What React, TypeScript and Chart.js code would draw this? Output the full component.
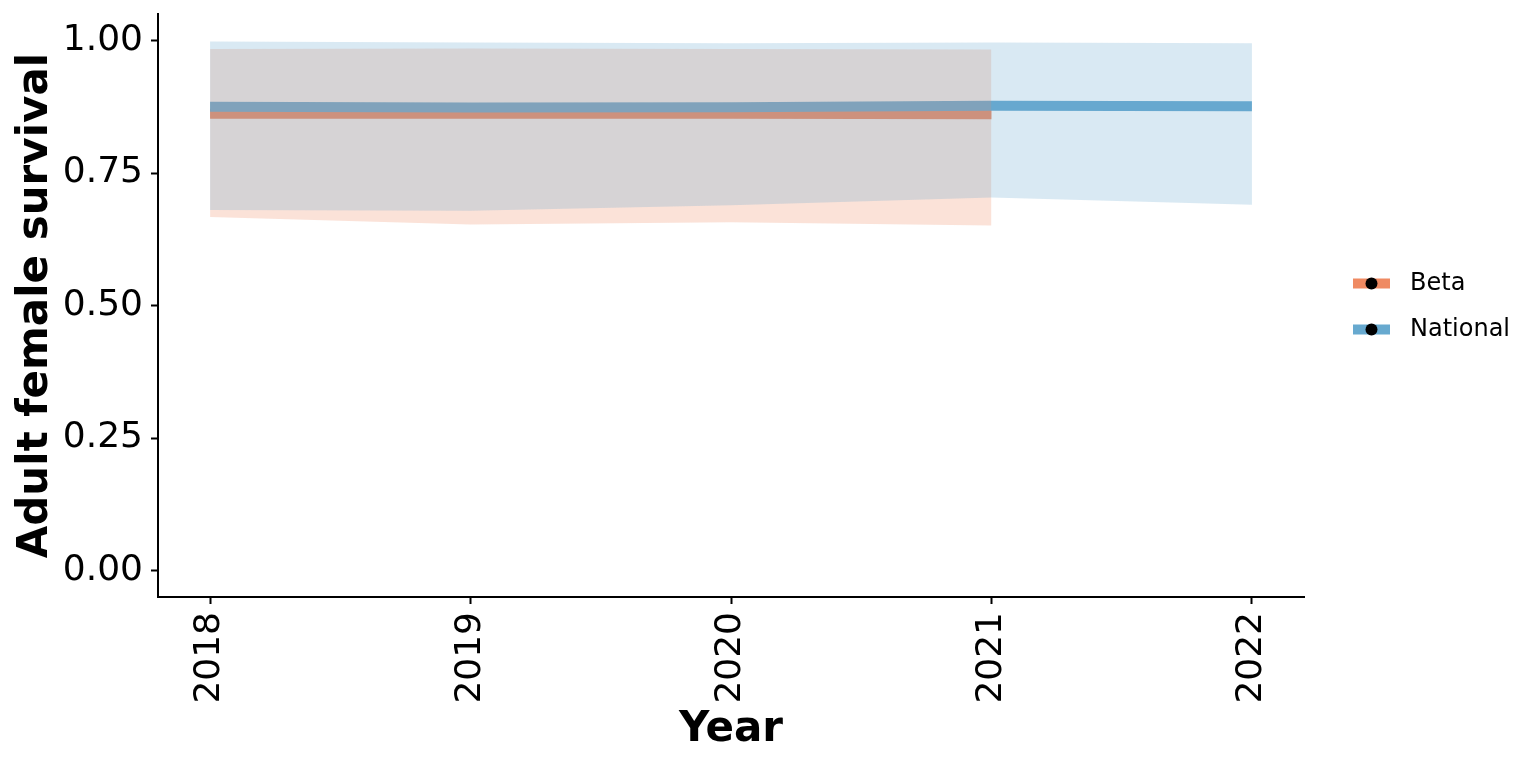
import React, { useEffect, useRef } from "react";
import { Chart, registerables } from "chart.js";

Chart.register(...registerables);

const years = [2018, 2019, 2020, 2021, 2022];
const betaYears = [2018, 2019, 2020, 2021];
const betaMean = [0.862, 0.862, 0.862, 0.861];
const betaLower = [0.667, 0.653, 0.657, 0.651];
const betaUpper = [0.984, 0.985, 0.984, 0.983];
const nationalMean = [0.875, 0.8735, 0.874, 0.877, 0.876];
const nationalLower = [0.68, 0.679, 0.689, 0.704, 0.69];
const nationalUpper = [0.998, 0.996, 0.995, 0.996, 0.995];
const yTicks = [0, 0.25, 0.5, 0.75, 1.0];
const seriesNames = ["Beta", "National"];
const seriesColors = ["#EF8A62", "#67A9CF"];
const seriesFills = ["rgba(239,138,98,0.25)", "rgba(103,169,207,0.25)"];

const FONT = "'DejaVu Sans', sans-serif";

const pts = (xs: number[], ys: number[]) => xs.map((x, i) => ({ x, y: ys[i] }));

const legendPlugin = {
  id: "customLegend",
  afterDraw(chart: any) {
    const { ctx, chartArea } = chart;
    const midY = (chartArea.top + chartArea.bottom) / 2;
    const x0 = chartArea.right + 49;
    ctx.save();
    seriesNames.forEach((name, i) => {
      const y = midY + (i === 0 ? -22 : 24);
      ctx.strokeStyle = seriesColors[i];
      ctx.lineWidth = 10;
      ctx.lineCap = "butt";
      ctx.beginPath();
      ctx.moveTo(x0, y);
      ctx.lineTo(x0 + 37, y);
      ctx.stroke();
      ctx.fillStyle = "#000";
      ctx.beginPath();
      ctx.arc(x0 + 18.5, y, 6, 0, Math.PI * 2);
      ctx.fill();
      ctx.font = `24px ${FONT}`;
      ctx.textBaseline = "middle";
      ctx.textAlign = "left";
      ctx.fillText(name, x0 + 57, y);
    });
    ctx.restore();
  },
};

export default function App() {
  const ref = useRef<HTMLCanvasElement | null>(null);
  useEffect(() => {
    if (!ref.current) return;
    const hidden = "rgba(0,0,0,0)";
    const chart = new Chart(ref.current, {
      type: "line",
      data: {
        datasets: [
          {
            label: "Beta",
            data: pts(betaYears, betaMean),
            borderColor: seriesColors[0],
            borderWidth: 10,
            pointRadius: 0,
            fill: false,
            order: 4,
          },
          {
            label: "National",
            data: pts(years, nationalMean),
            borderColor: seriesColors[1],
            borderWidth: 10,
            pointRadius: 0,
            fill: false,
            order: 3,
          },
          {
            label: "Beta lower",
            data: pts(betaYears, betaLower),
            borderColor: hidden,
            borderWidth: 1,
            pointRadius: 0,
            fill: false,
            order: 5,
          },
          {
            label: "Beta upper",
            data: pts(betaYears, betaUpper),
            borderColor: hidden,
            borderWidth: 1,
            pointRadius: 0,
            backgroundColor: seriesFills[0],
            fill: { target: 2 },
            order: 2,
          },
          {
            label: "National lower",
            data: pts(years, nationalLower),
            borderColor: hidden,
            borderWidth: 1,
            pointRadius: 0,
            fill: false,
            order: 5,
          },
          {
            label: "National upper",
            data: pts(years, nationalUpper),
            borderColor: hidden,
            borderWidth: 1,
            pointRadius: 0,
            backgroundColor: seriesFills[1],
            fill: { target: 4 },
            order: 1,
          },
        ],
      },
      options: {
        responsive: false,
        animation: false,
        events: [],
        layout: { padding: { left: 0, right: 232, top: 14, bottom: 0 } },
        plugins: {
          legend: { display: false },
          tooltip: { enabled: false },
          filler: { propagate: false },
        },
        elements: { line: { tension: 0 } },
        scales: {
          x: {
            type: "linear",
            min: 2017.8,
            max: 2022.2,
            afterBuildTicks: (s: any) => {
              s.ticks = years.map((v) => ({ value: v }));
            },
            afterFit: (s: any) => {
              s.height = 171;
              s.paddingLeft = 0;
              s.paddingRight = 0;
            },
            ticks: {
              minRotation: 90,
              maxRotation: 90,
              autoSkip: false,
              padding: 8,
              color: "#000",
              font: { family: FONT, size: 36 },
              callback: (v: any) => String(v),
            },
            grid: {
              drawOnChartArea: false,
              drawTicks: true,
              tickLength: 7,
              tickWidth: 2,
              tickColor: "#000",
            },
            border: { display: true, color: "#000", width: 2 },
            title: {
              display: true,
              text: "Year",
              color: "#000",
              font: { family: FONT, size: 42, weight: "bold" },
              padding: { top: 0, bottom: 13 },
            },
          },
          y: {
            type: "linear",
            min: -0.05,
            max: 1.05,
            afterBuildTicks: (s: any) => {
              s.ticks = yTicks.map((v) => ({ value: v }));
            },
            afterFit: (s: any) => {
              s.width = 158;
              s.paddingTop = 0;
              s.paddingBottom = 0;
            },
            ticks: {
              padding: 8,
              color: "#000",
              font: { family: FONT, size: 36 },
              callback: (v: any) => Number(v).toFixed(2),
            },
            grid: {
              drawOnChartArea: false,
              drawTicks: true,
              tickLength: 7,
              tickWidth: 2,
              tickColor: "#000",
            },
            border: { display: true, color: "#000", width: 2 },
            title: {
              display: true,
              text: "Adult female survival",
              color: "#000",
              font: { family: FONT, size: 42, weight: "bold" },
              padding: { top: 11, bottom: 0 },
            },
          },
        },
      },
      plugins: [legendPlugin],
    } as any);
    return () => chart.destroy();
  }, []);
  return (
    <div style={{ position: "fixed", left: 0, top: 0, width: 1536, height: 768, background: "#fff" }}>
      <canvas ref={ref} width={1536} height={768} style={{ display: "block" }} />
    </div>
  );
}
